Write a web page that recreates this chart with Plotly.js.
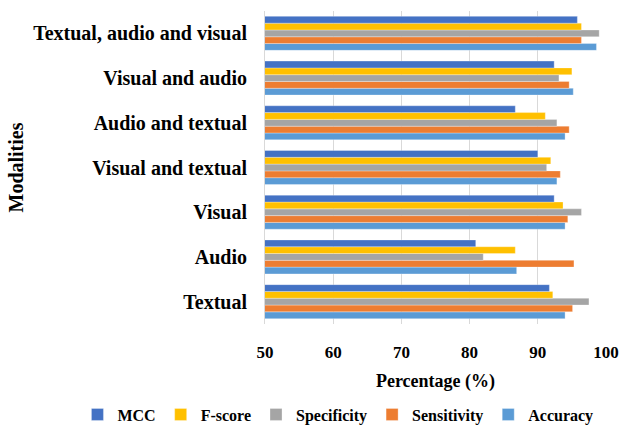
<!DOCTYPE html>
<html>
<head>
<meta charset="utf-8">
<script src="https://cdn.plot.ly/plotly-3.0.1.min.js"></script>
<style>html,body{margin:0;padding:0;background:#fff;}#chart{width:620px;height:443px;}</style>
</head>
<body>
<div id="chart"></div>
<script>
const categories = ["Textual", "Audio", "Visual", "Visual and textual", "Audio and textual", "Visual and audio", "Textual, audio and visual"];
const accuracy    = [94.0, 86.9, 94.0, 92.8, 94.0, 95.2, 98.6];
const sensitivity = [95.1, 95.3, 94.4, 93.3, 94.6, 94.6, 96.4];
const specificity = [97.5, 82.0, 96.4, 91.3, 92.8, 93.1, 99.0];
const fscore      = [92.2, 86.7, 93.7, 91.9, 91.1, 95.0, 96.4];
const mcc         = [91.7, 80.9, 92.4, 90.0, 86.7, 92.4, 95.8];
const xTicks = [50, 60, 70, 80, 90, 100];

const series = [
  {name: "Accuracy", values: accuracy, color: "#5B9BD5"},
  {name: "Sensitivity", values: sensitivity, color: "#ED7D31"},
  {name: "Specificity", values: specificity, color: "#A5A5A5"},
  {name: "F-score", values: fscore, color: "#FFC000"},
  {name: "MCC", values: mcc, color: "#4472C4"}
];

const font = "Liberation Serif";

const traces = series.map(s => ({
  type: "bar",
  orientation: "h",
  name: "<b>" + s.name + "</b>",
  y: categories,
  x: s.values,
  base: 0,
  marker: {color: s.color, line: {color: "rgba(255,255,255,0.6)", width: 0.5}}
}));

const layout = {
  width: 620, height: 443,
  margin: {l: 265, r: 14, t: 11, b: 113},
  paper_bgcolor: "#fff", plot_bgcolor: "#fff",
  barmode: "group",
  bargap: 0.24,
  bargroupgap: 0,
  font: {family: font, color: "#000"},
  xaxis: {
    range: [50, 100],
    tickvals: xTicks,
    ticktext: xTicks.map(v => "<b>" + v + "</b>"),
    showgrid: true, gridcolor: "#D9D9D9", gridwidth: 1,
    zeroline: false, showline: false,
    ticks: "outside", ticklen: 13, tickcolor: "rgba(0,0,0,0)",
    tickfont: {family: font, size: 17, color: "#000"},
    automargin: "height",
    title: {text: "<b>Percentage (%)</b>", font: {family: font, size: 18, color: "#000"}, standoff: 12}
  },
  yaxis: {
    type: "category",
    categoryorder: "array", categoryarray: categories,
    showgrid: false, zeroline: false,
    showline: true, linecolor: "#D9D9D9", linewidth: 1,
    ticks: "outside", ticklen: 13, tickcolor: "rgba(0,0,0,0)",
    ticktext: categories.map(c => "<b>" + c + "</b>"),
    tickvals: categories,
    tickfont: {family: font, size: 20, color: "#000"},
    automargin: "width",
    title: {text: "<b>Modalities</b>", font: {family: font, size: 20, color: "#000"}, standoff: 4}
  },
  legend: {
    orientation: "h", traceorder: "reversed",
    x: -0.55, xanchor: "left", xref: "paper",
    y: -0.235, yanchor: "top", yref: "paper",
    bgcolor: "rgba(0,0,0,0)",
    font: {family: font, size: 16, color: "#000"},
    itemwidth: 30,
    tracegroupgap: 0
  },
  showlegend: true
};

Plotly.newPlot("chart", traces, layout, {displayModeBar: false, staticPlot: true});
</script>
</body>
</html>
